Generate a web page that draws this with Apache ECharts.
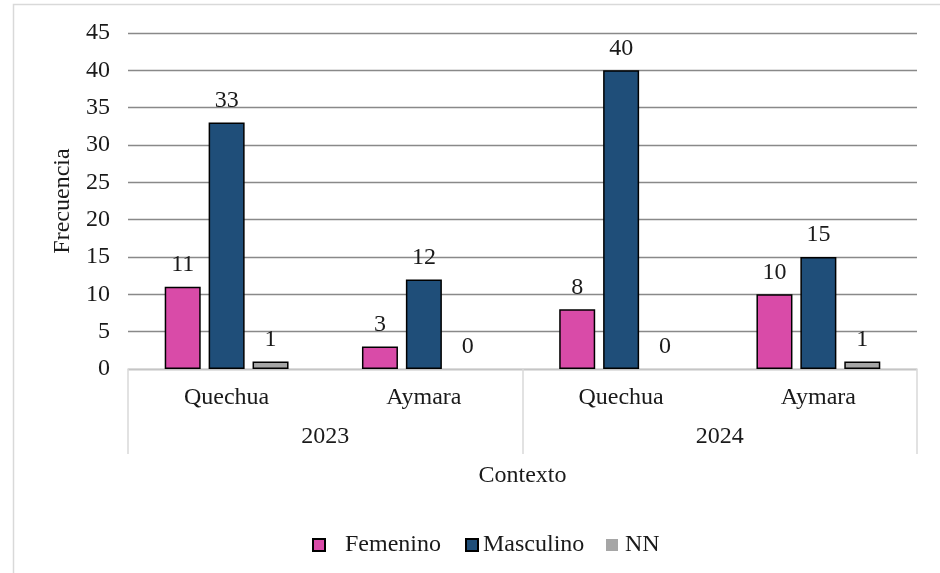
<!DOCTYPE html>
<html>
<head>
<meta charset="utf-8">
<script src="https://cdn.jsdelivr.net/npm/echarts@6/dist/echarts.min.js"></script>
<style>html,body{margin:0;padding:0;background:#fff}#c{width:940px;height:573px}</style>
</head>
<body>
<div id="c"></div>
<script>
const categories = ['Quechua', 'Aymara', 'Quechua', 'Aymara'];
const years = ['2023', '2024'];
const femenino = [11, 3, 8, 10];
const masculino = [33, 12, 40, 15];
const nn = [1, 0, 0, 1];
const yTicks = { min: 0, max: 45, interval: 5 };

const FONT = 'Liberation Serif';
const FS = 24;
const TXT = '#1a1a1a';

function toData(arr) {
  return arr.map(v => v === 0 ? { value: v, itemStyle: { borderWidth: 0 } } : v);
}
function mkSeries(name, arr, color) {
  return {
    name: name, type: 'bar', xAxisIndex: 0, yAxisIndex: 0,
    data: toData(arr), barWidth: 36, barGap: '22%', z: 3,
    itemStyle: { color: color, borderColor: '#000', borderWidth: 1.5 },
    label: { show: true, position: 'top', distance: 10, fontFamily: FONT, fontSize: FS, color: TXT },
    emphasis: { disabled: true }
  };
}
const chart = echarts.init(document.getElementById('c'));
chart.setOption({
  animation: false,
  backgroundColor: '#fff',
  grid: { left: 128, right: 23, top: 33, bottom: 204, containLabel: false },
  xAxis: [
    {
      type: 'category', data: categories, position: 'bottom', z: 2,
      axisLine: { show: true, lineStyle: { color: '#d9d9d9', width: 1.5 } },
      axisTick: { show: false },
      axisLabel: { margin: 17, fontFamily: FONT, fontSize: FS, color: TXT, interval: 0 }
    },
    {
      type: 'category', data: years, position: 'bottom', z: 2,
      axisLine: { show: false },
      axisTick: { show: true, length: 85, interval: 0, lineStyle: { color: '#d9d9d9', width: 1.5 } },
      axisLabel: { margin: 56, fontFamily: FONT, fontSize: FS, color: TXT, interval: 0 },
      name: 'Contexto', nameLocation: 'middle', nameGap: 95,
      nameTextStyle: { fontFamily: FONT, fontSize: FS, color: TXT }
    }
  ],
  yAxis: {
    type: 'value', min: yTicks.min, max: yTicks.max, interval: yTicks.interval,
    axisLine: { show: false }, axisTick: { show: false },
    splitLine: { lineStyle: { color: '#898989', width: 1.3 } },
    axisLabel: { margin: 18, fontFamily: FONT, fontSize: FS, color: TXT },
    name: 'Frecuencia', nameLocation: 'middle', nameGap: 52, nameRotate: 90,
    nameTextStyle: { fontFamily: FONT, fontSize: FS, color: TXT }
  },
  legend: [
    { data: ['Femenino'], icon: 'rect', left: 312, top: 533, padding: 0, itemWidth: 12, itemHeight: 12, selectedMode: false,
      itemStyle: { borderColor: '#000', borderWidth: 2 },
      textStyle: { fontFamily: FONT, fontSize: FS, color: TXT, padding: [0, 0, 0, 15] } },
    { data: ['Masculino'], icon: 'rect', left: 465, top: 533, padding: 0, itemWidth: 12, itemHeight: 12, selectedMode: false,
      itemStyle: { borderColor: '#000', borderWidth: 2 },
      textStyle: { fontFamily: FONT, fontSize: FS, color: TXT } },
    { data: ['NN'], icon: 'rect', left: 606, top: 533, padding: 0, itemWidth: 12, itemHeight: 12, selectedMode: false,
      itemStyle: { borderWidth: 0 },
      textStyle: { fontFamily: FONT, fontSize: FS, color: TXT, padding: [0, 0, 0, 2] } }
  ],
  graphic: [
    { type: 'rect', silent: true, z: -1, shape: { x: 13.5, y: 4.5, width: 960, height: 600 },
      style: { fill: 'none', stroke: '#d9d9d9', lineWidth: 1.5 } }
  ],
  series: [
    mkSeries('Femenino', femenino, '#d94ba8'),
    mkSeries('Masculino', masculino, '#1f4e79'),
    mkSeries('NN', nn, '#a6a6a6')
  ]
});
</script>
</body>
</html>
